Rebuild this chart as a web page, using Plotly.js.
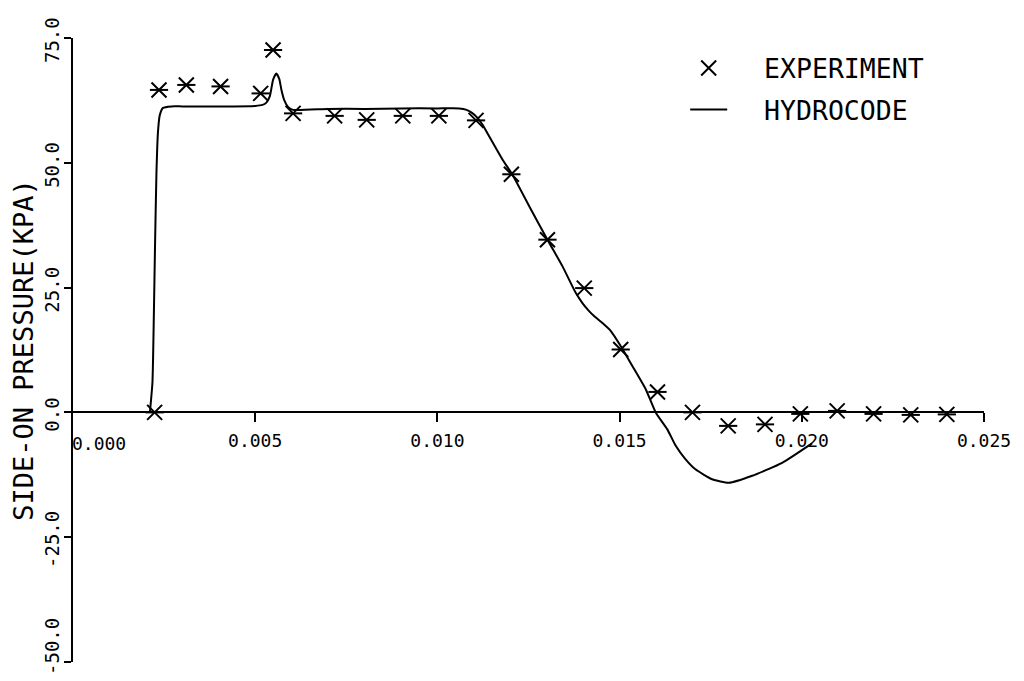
<!DOCTYPE html>
<html>
<head>
<meta charset="utf-8">
<script src="https://cdn.plot.ly/plotly-3.0.1.min.js"></script>
<style>html,body{margin:0;padding:0;background:#fff;}#chart{width:1024px;height:681px;}</style>
</head>
<body>
<div id="chart"></div>
<script>
// Experiment (asterisk markers)
const expTime = [0.00224, 0.00236, 0.00311, 0.00405, 0.00515, 0.00549, 0.00604, 0.00718, 0.00806, 0.00905, 0.01004, 0.01106, 0.01203, 0.01302, 0.01403, 0.01503, 0.01604, 0.01700, 0.01798, 0.01899, 0.01996, 0.02097, 0.02197, 0.02299, 0.02398];
const expPressure = [0, 64.6, 65.6, 65.3, 63.9, 72.6, 59.9, 59.4, 58.6, 59.4, 59.4, 58.5, 47.7, 34.6, 24.9, 12.6, 4.1, 0, -2.7, -2.4, -0.3, 0.3, -0.3, -0.5, -0.4];

// Hydrocode (solid line)
const hydroTime = [0.00211, 0.00218, 0.00222, 0.00225, 0.00229, 0.00233, 0.00238, 0.00247, 0.00270, 0.0030, 0.0040, 0.0050, 0.00520, 0.00530, 0.00540, 0.00549, 0.00558, 0.00566, 0.00572, 0.00580, 0.00590, 0.00604, 0.0070, 0.0080, 0.0090, 0.0100, 0.01060, 0.01080, 0.01095, 0.01110, 0.01125, 0.01142, 0.01160, 0.01179, 0.01206, 0.01252, 0.01302, 0.01343, 0.01380, 0.01398, 0.01415, 0.01430, 0.01453, 0.01476, 0.01503, 0.01535, 0.01572, 0.01599, 0.01631, 0.01654, 0.01680, 0.01708, 0.01754, 0.01800, 0.01864, 0.01946, 0.02028];
const hydroPressure = [0, 6, 20, 33, 48, 56, 59.5, 61.0, 61.3, 61.3, 61.3, 61.4, 61.6, 62.0, 63.3, 66.6, 67.9, 66.8, 64.6, 62.5, 61.2, 60.6, 60.8, 60.8, 60.9, 60.9, 60.9, 60.6, 60.0, 59.0, 57.5, 55.3, 53.0, 50.6, 47.6, 41.3, 34.6, 29.3, 23.9, 21.9, 20.4, 19.3, 17.9, 16.3, 13.3, 9.3, 4.6, 0, -3.4, -6.7, -9.3, -11.4, -13.4, -14.1, -12.7, -10.1, -6.2];

// Axis ticks
const xTickVals = [0.005, 0.010, 0.015, 0.020, 0.025];
const xTickText = ['0.005', '0.010', '0.015', '0.020', '0.025'];
const xZeroLabel = '0.000';
const yTickVals = [-50, -25, 0, 25, 50, 75];
const yTickText = ['', '-25.0', '0.0', '25.0', '50.0', '75.0'];
const yBottomVal = -50;
const yBottomLabel = '-50.0';

const FONT = 'DejaVu Sans Mono, Liberation Mono, monospace';

const traces = [
  {
    x: hydroTime, y: hydroPressure, type: 'scatter', mode: 'lines',
    name: '\u00a0\u00a0HYDROCODE', legendgroup: 'b', legendrank: 2,
    line: {color: '#000', width: 2, shape: 'spline', smoothing: 0.5}
  },
  {
    x: expTime, y: expPressure, type: 'scatter', mode: 'markers',
    name: '\u00a0\u00a0EXPERIMENT', legendgroup: 'a', legendrank: 1,
    marker: {symbol: 'x-thin-open', size: 15, color: '#000', line: {color: '#000', width: 2}},
    error_x: {type: 'constant', value: 0.00025, width: 0, thickness: 2, color: '#000'}
  }
];

const layout = {
  width: 1024, height: 681,
  margin: {l: 73, r: 40, t: 38, b: 19},
  paper_bgcolor: '#fff', plot_bgcolor: '#fff',
  font: {family: FONT, color: '#000', size: 18},
  showlegend: true,
  legend: {
    x: 0.672, xanchor: 'left', y: 0.99, yanchor: 'top',
    font: {family: FONT, size: 26.5, color: '#000'},
    itemwidth: 37, tracegroupgap: 4, bgcolor: 'rgba(0,0,0,0)',
    traceorder: 'grouped'
  },
  xaxis: {
    range: [0, 0.025], anchor: 'free', position: 0.4,
    showline: true, linecolor: '#000', linewidth: 2,
    ticks: 'outside', ticklen: 9, tickwidth: 2, tickcolor: '#000',
    tickvals: xTickVals, ticktext: xTickText, ticklabelstandoff: 3,
    tickfont: {family: FONT, size: 18, color: '#000'},
    showgrid: false, zeroline: false
  },
  yaxis: {
    range: [-50, 75],
    showline: true, linecolor: '#000', linewidth: 2,
    ticks: 'outside', ticklen: 7, tickwidth: 2, tickcolor: '#000',
    tickvals: yTickVals, ticktext: yTickText, tickangle: -90,
    ticklabelshift: 5, ticklabelstandoff: -3,
    tickfont: {family: FONT, size: 19, color: '#000'},
    showgrid: false, zeroline: false,
    title: {text: 'SIDE-ON PRESSURE(KPA)', font: {family: FONT, size: 27, color: '#000'}, standoff: 0}
  },
  annotations: [
    {x: 0, y: 0, xref: 'x', yref: 'y', text: xZeroLabel, showarrow: false,
     xanchor: 'left', yanchor: 'top', xshift: -3, yshift: -19,
     font: {family: FONT, size: 18, color: '#000'}},
    {x: 0, y: yBottomVal, xref: 'paper', yref: 'y', text: yBottomLabel, showarrow: false,
     textangle: -90, xanchor: 'center', yanchor: 'middle', xshift: -21, yshift: 15,
     font: {family: FONT, size: 19, color: '#000'}}
  ]
};

Plotly.newPlot('chart', traces, layout, {staticPlot: true, displayModeBar: false});
</script>
</body>
</html>
